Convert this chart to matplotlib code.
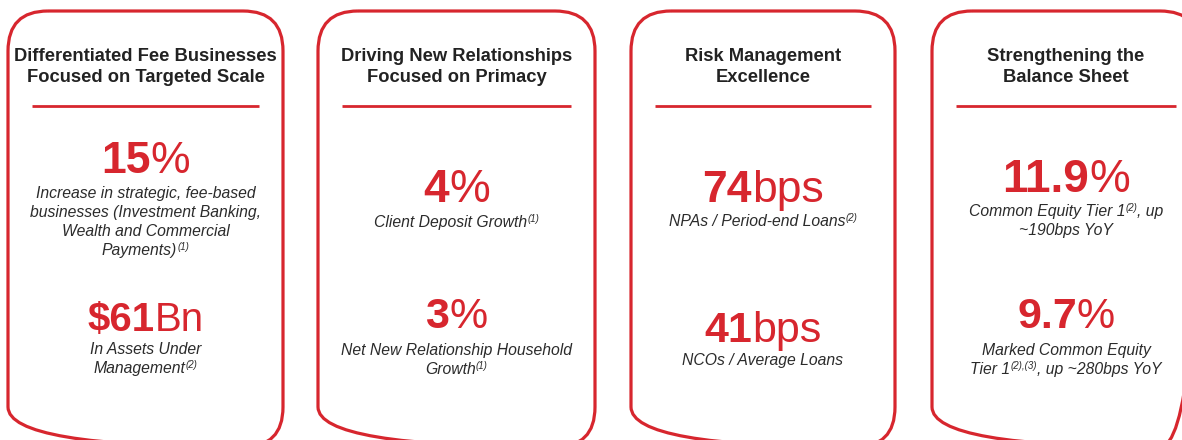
import re
import matplotlib
matplotlib.use("Agg")
import matplotlib.pyplot as plt
from matplotlib.patches import FancyBboxPatch

# ---------------- data ----------------
titles = [
    ["Differentiated Fee Businesses", "Focused on Targeted Scale"],
    ["Driving New Relationships", "Focused on Primacy"],
    ["Risk Management", "Excellence"],
    ["Strengthening the", "Balance Sheet"],
]
# headline figures: (bold number, regular unit)
values_top = [("15", "%"), ("4", "%"), ("74", "bps"), ("11.9", "%")]
values_bottom = [("$61", "Bn"), ("3", "%"), ("41", "bps"), ("9.7", "%")]
desc_top = [
    ["Increase in strategic, fee-based", "businesses (Investment Banking,",
     "Wealth and Commercial", "Payments)^{(1)}"],
    ["Client Deposit Growth^{(1)}"],
    ["NPAs / Period-end Loans^{(2)}"],
    ["Common Equity Tier 1^{(2)}, up", "~190bps YoY"],
]
desc_bottom = [
    ["In Assets Under", "Management^{(2)}"],
    ["Net New Relationship Household", "Growth^{(1)}"],
    ["NCOs / Average Loans"],
    ["Marked Common Equity", "Tier 1^{(2),(3)}, up ~280bps YoY"],
]

# ---------------- layout ----------------
RED = "#D7262E"
TITLE_C = "#222222"
DESC_C = "#2b2b2b"
FONT = "Liberation Sans"

box_left = [8, 318, 631, 932]
box_right = [283, 595, 895, 1200]
box_top, box_bottom = 11, 447
value_top_base = [173, 202, 202, 192]
value_top_size = [32, 33, 32, 33]
value_bot_base = [331, 328, 342, 328]
value_bot_size = [29, 31, 31, 31]
desc_top_base = [198, 227, 226, 216]
desc_bot_base = [354, 355, 365, 355]
title_base = [61, 82]
line_gap = 19

W, H = 1182, 440
fig = plt.figure(figsize=(W / 100, H / 100), dpi=100)
ax = fig.add_axes([0, 0, 1, 1])
ax.set_xlim(0, W)
ax.set_ylim(H, 0)
ax.axis("off")
renderer = fig.canvas.get_renderer()


def draw_runs(xc, y, runs):
    """runs: list of (text, size, weight, style, color, dy). Centered at xc, baseline y."""
    objs = []
    total = 0
    for s, size, weight, style, color, dy in runs:
        t = ax.text(0, y - dy, s, fontsize=size, fontweight=weight, fontstyle=style,
                    color=color, family=FONT, va="baseline", ha="left")
        w = t.get_window_extent(renderer).width
        objs.append((t, w))
        total += w
    x = xc - total / 2
    for t, w in objs:
        t.set_x(x)
        x += w


def desc_line(xc, y, line):
    parts = re.split(r"(\^\{.*?\})", line)
    runs = []
    for p in parts:
        if not p:
            continue
        if p.startswith("^{"):
            runs.append((p[2:-1], 7, "normal", "italic", DESC_C, 5))
        else:
            runs.append((p, 11.3, "normal", "italic", DESC_C, 0))
    draw_runs(xc, y, runs)


for i in range(4):
    l, r = box_left[i], box_right[i]
    xc = (l + r) / 2
    ax.add_patch(FancyBboxPatch((l, box_top), r - l, box_bottom - box_top,
                                boxstyle="round,pad=0,rounding_size=40",
                                fill=False, ec=RED, lw=2.3, clip_on=False))
    ax.plot([l + 24, r - 24], [106, 106], color=RED, lw=2.0, solid_capstyle="butt")
    for k, tl in enumerate(titles[i]):
        draw_runs(xc, title_base[k], [(tl, 13.2, "bold", "normal", TITLE_C, 0)])
    num, unit = values_top[i]
    draw_runs(xc, value_top_base[i], [(num, value_top_size[i], "bold", "normal", RED, 0),
                                      (unit, value_top_size[i], "normal", "normal", RED, 0)])
    num, unit = values_bottom[i]
    draw_runs(xc, value_bot_base[i], [(num, value_bot_size[i], "bold", "normal", RED, 0),
                                      (unit, value_bot_size[i], "normal", "normal", RED, 0)])
    for k, ln in enumerate(desc_top[i]):
        desc_line(xc, desc_top_base[i] + k * line_gap, ln)
    for k, ln in enumerate(desc_bottom[i]):
        desc_line(xc, desc_bot_base[i] + k * line_gap, ln)

fig.savefig("out.png", dpi=100, facecolor="white")
